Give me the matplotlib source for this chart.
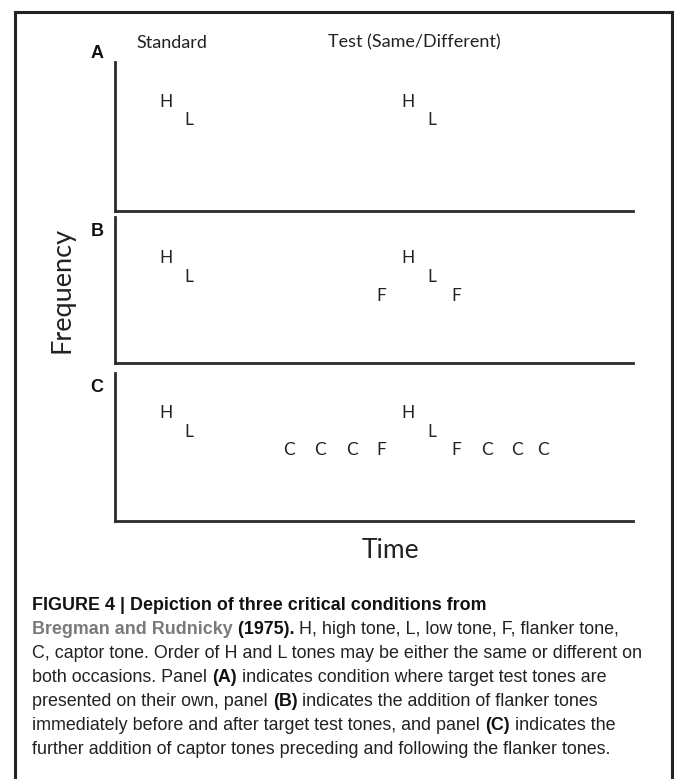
import matplotlib
matplotlib.use("Agg")
import matplotlib.pyplot as plt
from matplotlib.lines import Line2D

# ---------------- data ----------------
panel_labels = ["A", "B", "C"]
header_labels = ["Standard", "Test (Same/Different)"]
header_time = [10.9, 57.8]

tones_A = ["H", "L", "H", "L"]
time_A = [9.8, 14.3, 56.6, 61.2]
freq_A = [73, 61, 73, 61]

tones_B = ["H", "L", "F", "H", "L", "F"]
time_B = [9.8, 14.3, 51.4, 56.6, 61.2, 65.8]
freq_B = [72, 59, 46, 72, 59, 46]

tones_C = ["H", "L", "C", "C", "C", "F", "H", "L", "F", "C", "C", "C"]
time_C = [9.8, 14.3, 33.6, 39.6, 45.8, 51.4, 56.6, 61.2, 65.8, 71.8, 77.6, 82.6]
freq_C = [73, 60, 48, 48, 48, 48, 73, 60, 48, 48, 48, 48]

x_label = "Time"
y_label = "Frequency"

caption_lines = [
    [("FIGURE 4 | Depiction of three critical conditions from", "bold", "#111111")],
    [("Bregman and Rudnicky", "bold", "#7a7a7a"), (" (1975).", "bold", "#111111"),
     (" H, high tone, L, low tone, F, flanker tone,", "normal", "#222222")],
    [("C, captor tone. Order of H and L tones may be either the same or different on", "normal", "#222222")],
    [("both occasions. Panel ", "normal", "#222222"), ("(A)", "bold", "#111111"),
     (" indicates condition where target test tones are", "normal", "#222222")],
    [("presented on their own, panel ", "normal", "#222222"), ("(B)", "bold", "#111111"),
     (" indicates the addition of flanker tones", "normal", "#222222")],
    [("immediately before and after target test tones, and panel ", "normal", "#222222"),
     ("(C)", "bold", "#111111"), (" indicates the", "normal", "#222222")],
    [("further addition of captor tones preceding and following the flanker tones.", "normal", "#222222")],
]

# ---------------- layout ----------------
W, H = 674, 779
fig = plt.figure(figsize=(W / 100, H / 100), dpi=100)
fig.patch.set_facecolor("white")


def fx(px):
    return px / W


def fy(py):
    return 1 - py / H


diagram_font = ["Lato", "DejaVu Sans"]
line_color = "#2b2b2b"

# outer border (left, top, right)
border_kw = dict(color="#222222", lw=2.2, transform=fig.transFigure, solid_capstyle="projecting")
fig.add_artist(Line2D([fx(15), fx(15)], [fy(779), fy(12)], **border_kw))
fig.add_artist(Line2D([fx(15), fx(672)], [fy(12), fy(12)], **border_kw))
fig.add_artist(Line2D([fx(672), fx(672)], [fy(12), fy(779)], **border_kw))

panels_px = [(62, 211), (217, 363), (373, 521)]
ax_left, ax_right = 115, 633
panel_data = [(tones_A, time_A, freq_A), (tones_B, time_B, freq_B), (tones_C, time_C, freq_C)]

axes = []
for (top, bot), lab, (tones, times, freqs) in zip(panels_px, panel_labels, panel_data):
    ax = fig.add_axes([fx(ax_left), fy(bot), fx(ax_right - ax_left), (bot - top) / H])
    ax.set_xlim(0, 100)
    ax.set_ylim(0, 100)
    ax.set_facecolor("none")
    for s in ["top", "right"]:
        ax.spines[s].set_visible(False)
    for s in ["left", "bottom"]:
        ax.spines[s].set_linewidth(2.0)
        ax.spines[s].set_color(line_color)
        ax.spines[s].set_capstyle("projecting")
    ax.set_xticks([])
    ax.set_yticks([])
    for t, x, y in zip(tones, times, freqs):
        ax.text(x, y, t, ha="center", va="center", fontsize=12.5,
                family=diagram_font, color="#222222")
    fig.text(fx(97), fy(top - 9 if lab == "A" else top + 15), lab, ha="center", va="center",
             fontsize=13, fontweight="bold", family=["Liberation Sans", "DejaVu Sans"],
             color="#111111")
    axes.append(ax)

# headers above panel A
for lab, t in zip(header_labels, header_time):
    axes[0].text(t, 113, lab, ha="center", va="center", fontsize=13,
                 family=diagram_font, color="#222222", clip_on=False)

fig.text(fx(390), fy(550), x_label, ha="center", va="center", fontsize=19,
         family=diagram_font, color="#222222")
fig.text(fx(62), fy(290), y_label, ha="center", va="center", fontsize=19.5,
         rotation=90, family=diagram_font, color="#222222")

# caption
renderer = fig.canvas.get_renderer()
cap_x0 = 32
cap_y0 = 605
cap_dy = 24.0
cap_size = 12.9
for i, segs in enumerate(caption_lines):
    x = cap_x0
    y = cap_y0 + 5 + i * cap_dy
    for txt, wt, col in segs:
        t = fig.text(fx(x), fy(y), txt, ha="left", va="baseline", fontsize=cap_size,
                     fontweight=wt, color=col, family=["Liberation Sans", "DejaVu Sans"])
        bb = t.get_window_extent(renderer=renderer)
        x += bb.width

fig.savefig("out.png", dpi=100, facecolor="white")
